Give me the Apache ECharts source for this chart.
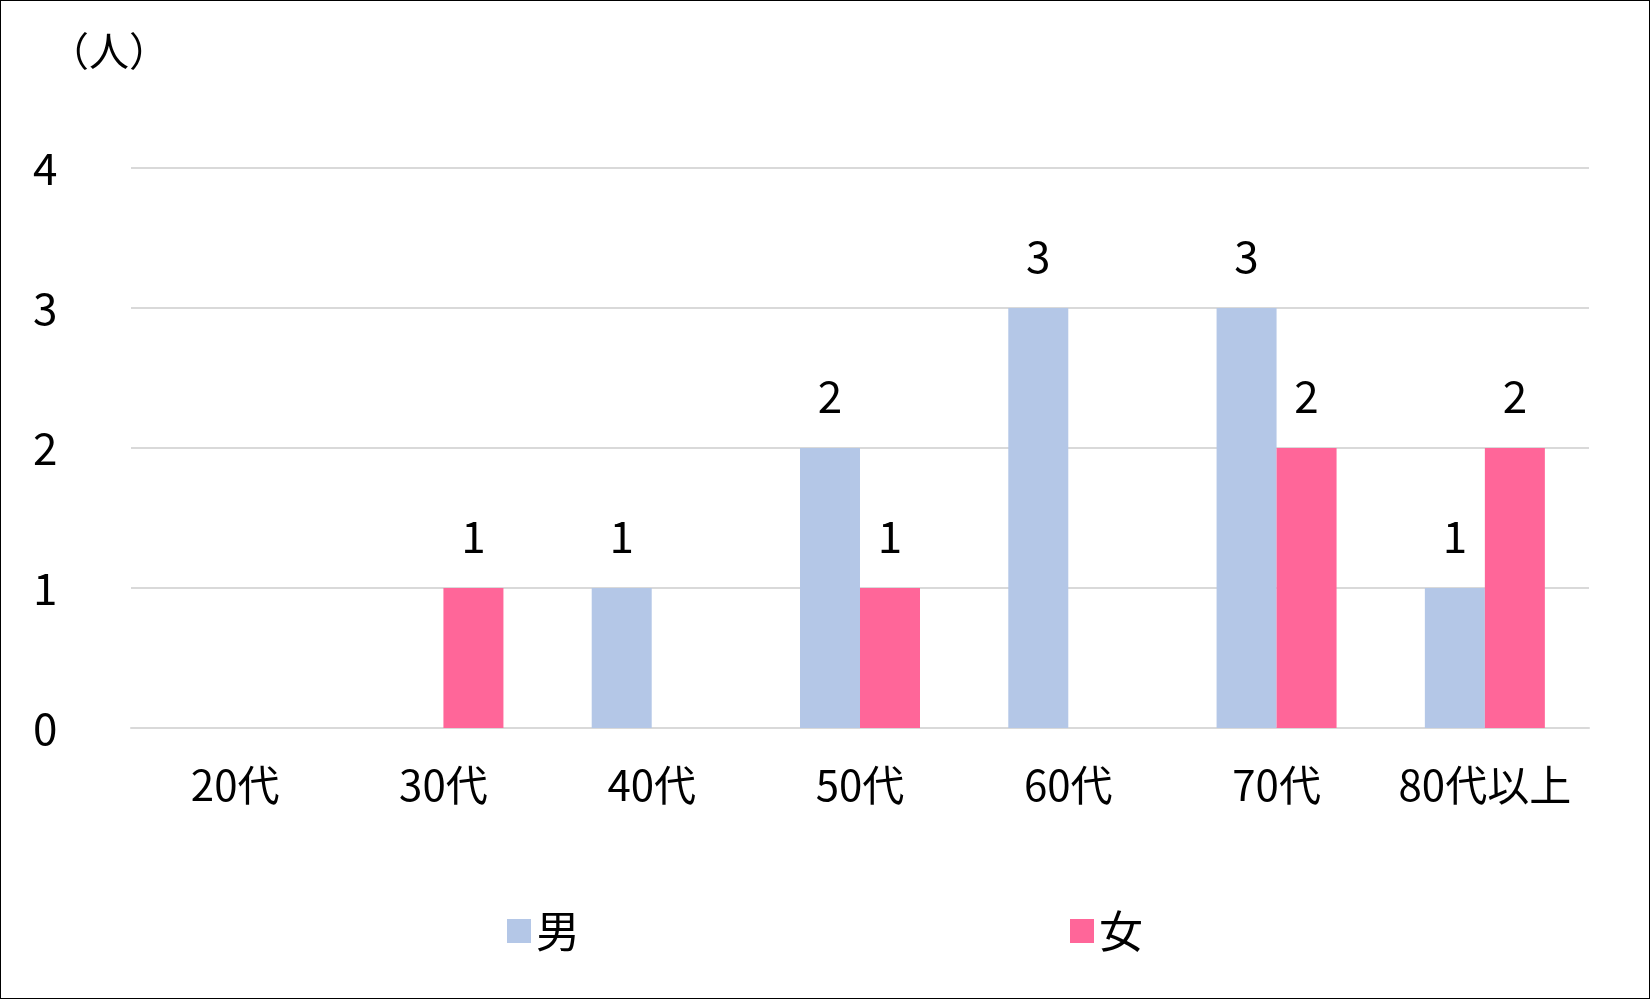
<!DOCTYPE html>
<html><head><meta charset="utf-8">
<script src="https://cdn.jsdelivr.net/npm/echarts@6/dist/echarts.min.js"></script>
<style>html,body{margin:0;padding:0;background:#fff}#c{width:1648px;height:997px;border:1px solid #000}</style>
</head><body><div id="c"></div>
<script>
const categories=['20代','30代','40代','50代','60代','70代','80代以上'];
const male=[0,0,1,2,3,3,1];
const female=[0,1,0,1,0,2,2];
const yTicks=[0,1,2,3,4];
const font='"Noto Sans CJK JP", sans-serif';
const fmt=p=>p.value?p.value:'';
const chart=echarts.init(document.getElementById('c'));
chart.setOption({
  animation:false,
  textStyle:{fontFamily:font},
  grid:{left:130,right:60,top:167,bottom:270,containLabel:false},
  graphic:[{type:'text',left:48,top:30,style:{text:'（人）',fontSize:40,fontFamily:font,fill:'#000'}}],
  legend:{bottom:40,left:'center',itemGap:490,itemWidth:24,itemHeight:24,icon:'rect',
    textStyle:{fontSize:44,color:'#000',fontFamily:font}},
  xAxis:{type:'category',data:categories,axisTick:{show:false},
    axisLine:{lineStyle:{color:'#d9d9d9',width:2}},
    axisLabel:{fontSize:42,color:'#000',margin:36,interval:0,fontFamily:font}},
  yAxis:{type:'value',min:yTicks[0],max:yTicks[yTicks.length-1],interval:1,
    splitLine:{lineStyle:{color:'#d9d9d9',width:2}},
    axisLabel:{fontSize:44,color:'#000',margin:98,align:'left',fontFamily:font}},
  series:[
    {name:'男',type:'bar',data:male,barWidth:60,barGap:'0%',itemStyle:{color:'#b4c7e7'},
     label:{show:true,position:'top',distance:30,fontSize:44,color:'#000',formatter:fmt}},
    {name:'女',type:'bar',data:female,barWidth:60,itemStyle:{color:'#ff6699'},
     label:{show:true,position:'top',distance:30,fontSize:44,color:'#000',formatter:fmt}}
  ]
});
</script></body></html>
